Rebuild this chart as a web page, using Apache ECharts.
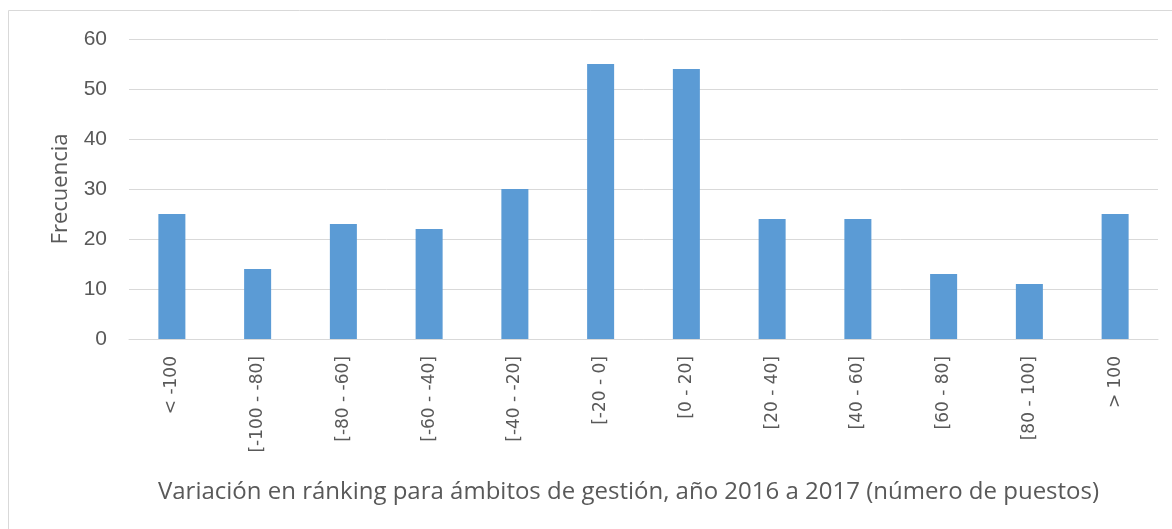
<!DOCTYPE html>
<html>
<head>
<meta charset="utf-8">
<script src="https://cdn.jsdelivr.net/npm/echarts@6/dist/echarts.min.js"></script>
<style>
  html, body { margin: 0; padding: 0; background: #fff; }
  #chart { width: 1172px; height: 529px; }
</style>
</head>
<body>
<div id="chart"></div>
<script>
// rangos de variación en ránking
const categories = ['< -100', '[-100 - -80]', '[-80 - -60]', '[-60 - -40]', '[-40 - -20]', '[-20 - 0]',
  '[0 - 20]', '[20 - 40]', '[40 - 60]', '[60 - 80]', '[80 - 100]', '> 100']
const frecuencia = [25, 14, 23, 22, 30, 55, 54, 24, 24, 13, 11, 25]
const yTicks = { min: 0, max: 60, interval: 10 }

const textColor = '#595959'
const lineColor = '#d9d9d9'
const titleFont = 'Open Sans'

const chart = echarts.init(document.getElementById('chart'))

chart.setOption({
  animation: false,
  graphic: [{
    type: 'rect',
    silent: true,
    shape: { x: 8.5, y: 10.5, width: 1200, height: 600 },
    style: { fill: 'none', stroke: lineColor, lineWidth: 1 },
  }],
  grid: { left: 129, right: 14, top: 39, bottom: 190, containLabel: false },
  xAxis: {
    type: 'category',
    data: categories,
    axisLine: { lineStyle: { color: lineColor, width: 1 } },
    axisTick: { show: false },
    axisLabel: {
      rotate: 90,
      margin: 17,
      color: textColor,
      fontFamily: 'DejaVu Sans',
      fontSize: 17,
    },
    name: 'Variación en ránking para ámbitos de gestión, año 2016 a 2017 (número de puestos)',
    nameLocation: 'middle',
    nameGap: 141,
    nameTextStyle: {
      color: textColor,
      fontFamily: titleFont,
      fontSize: 24,
      padding: [0, 30, 0, 0],
    },
  },
  yAxis: {
    type: 'value',
    min: yTicks.min,
    max: yTicks.max,
    interval: yTicks.interval,
    axisLine: { show: false },
    axisTick: { show: false },
    splitLine: { lineStyle: { color: lineColor, width: 1 } },
    axisLabel: {
      margin: 22,
      color: textColor,
      fontFamily: 'Liberation Sans',
      fontSize: 21,
    },
    name: 'Frecuencia',
    nameLocation: 'middle',
    nameGap: 57,
    nameTextStyle: { color: textColor, fontFamily: titleFont, fontSize: 22 },
  },
  series: [{
    type: 'bar',
    data: frecuencia,
    barWidth: '31.5%',
    itemStyle: { color: '#5b9bd5' },
  }],
})
</script>
</body>
</html>
